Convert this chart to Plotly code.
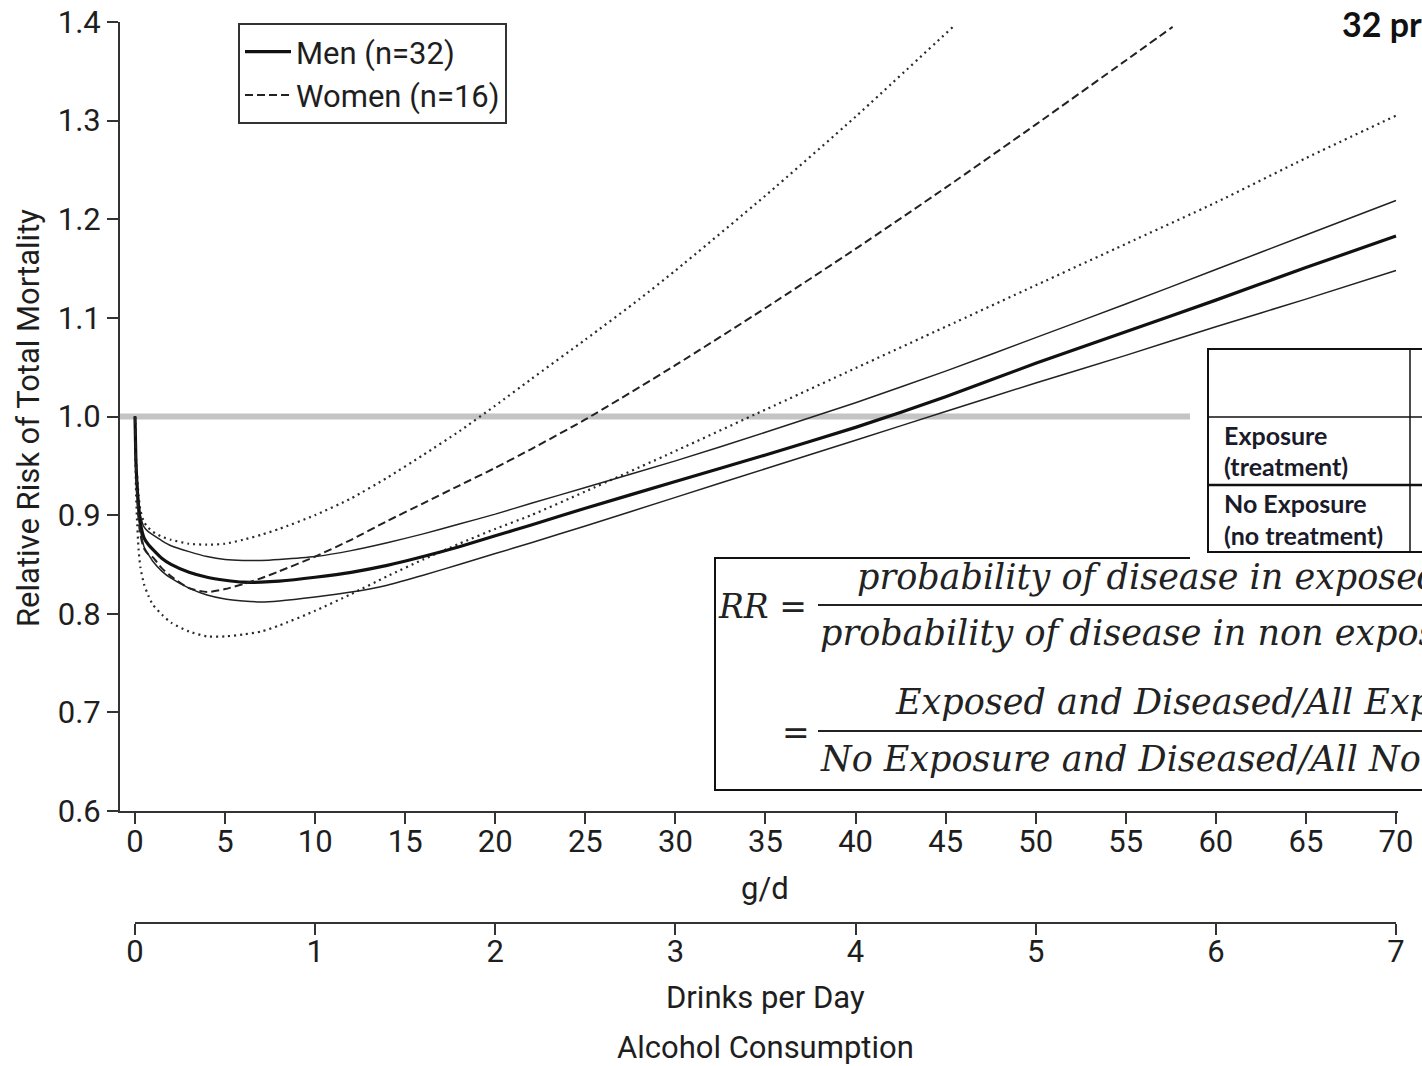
import plotly.graph_objects as go

# ---------------- data ----------------
grams = [0, 0.05, 0.1, 0.2, 0.3, 0.5, 0.75, 1, 1.5, 2, 3, 4, 5, 6, 7, 8, 10, 12, 14,
         16, 18, 20, 22, 25, 30, 35, 40, 45, 50, 55, 60, 65, 70]

men_rr = [1.0, 0.955, 0.935, 0.908, 0.892, 0.877, 0.870, 0.865, 0.856, 0.850, 0.842, 0.837,
          0.834, 0.832, 0.832, 0.833, 0.837, 0.842, 0.849, 0.858, 0.868, 0.879, 0.890,
          0.907, 0.934, 0.961, 0.989, 1.020, 1.054, 1.086, 1.118, 1.151, 1.183]
men_upper = [1.0, 0.958, 0.940, 0.915, 0.900, 0.888, 0.883, 0.880, 0.874, 0.869, 0.863, 0.858,
             0.855, 0.854, 0.854, 0.855, 0.858, 0.864, 0.872, 0.881, 0.891, 0.901, 0.912,
             0.928, 0.955, 0.984, 1.014, 1.046, 1.080, 1.114, 1.149, 1.184, 1.219]
men_lower = [1.0, 0.952, 0.930, 0.900, 0.885, 0.868, 0.860, 0.853, 0.843, 0.836, 0.826, 0.819,
             0.815, 0.813, 0.812, 0.813, 0.817, 0.822, 0.829, 0.839, 0.850, 0.861, 0.872,
             0.889, 0.918, 0.947, 0.976, 1.005, 1.034, 1.062, 1.091, 1.119, 1.148]

women_grams = [0, 0.05, 0.1, 0.2, 0.3, 0.5, 0.75, 1, 1.5, 2, 3, 4, 5, 6, 7, 8, 10, 12, 14,
               16, 18, 20, 22, 25, 30, 35, 40, 45, 50, 55, 57.6]
women_rr = [1.0, 0.950, 0.925, 0.895, 0.880, 0.866, 0.860, 0.857, 0.846, 0.838, 0.826, 0.822,
            0.825, 0.830, 0.836, 0.843, 0.858, 0.875, 0.894, 0.912, 0.930, 0.948, 0.967,
            0.997, 1.052, 1.110, 1.170, 1.232, 1.296, 1.361, 1.395]

women_upper_grams = [0, 0.05, 0.1, 0.2, 0.3, 0.5, 0.75, 1, 1.5, 2, 3, 4, 5, 6, 7, 8, 10, 12,
                     14, 16, 18, 20, 22, 25, 28, 30, 35, 40, 45.4]
women_upper = [1.0, 0.962, 0.945, 0.920, 0.905, 0.893, 0.887, 0.883, 0.878, 0.875, 0.871,
               0.870, 0.871, 0.875, 0.880, 0.886, 0.900, 0.917, 0.938, 0.961, 0.985, 1.011,
               1.038, 1.078, 1.119, 1.148, 1.224, 1.304, 1.395]

women_lower = [1.0, 0.930, 0.900, 0.865, 0.847, 0.830, 0.818, 0.809, 0.799, 0.791, 0.782,
               0.777, 0.777, 0.779, 0.782, 0.788, 0.803, 0.820, 0.838, 0.855, 0.871, 0.886,
               0.900, 0.924, 0.965, 1.007, 1.049, 1.091, 1.133, 1.175, 1.217, 1.262, 1.305]

gram_ticks = list(range(0, 75, 5))
drink_ticks = list(range(0, 8))
rr_ticks = [0.6, 0.7, 0.8, 0.9, 1.0, 1.1, 1.2, 1.3, 1.4]
reference_rr = 1.0

# ---------------- layout helpers ----------------
W, H = 1422, 1066
ML, MR, MT, MB = 120, 0, 22, 100
PW = W - ML - MR
PH = H - MT - MB


def px(xp):
    return (xp - ML) / PW


def py(yp):
    return (H - MB - yp) / PH


G0_PX, G_SCALE = 135, 18.014   # pixel of 0 g/d and px per g/d
X_END_PX = 1398
x_range = [(ML - G0_PX) / G_SCALE, (X_END_PX - G0_PX) / G_SCALE]

SANS = "Roboto, Liberation Sans, sans-serif"
INK = "#1e1e1e"
SMOOTH = dict(shape="spline", smoothing=0.6)

fig = go.Figure()

# women confidence bounds (dotted)
fig.add_trace(go.Scatter(x=women_upper_grams, y=women_upper, mode="lines",
                         line=dict(color="#2a2a2a", width=2.2, dash="2px,4px", **SMOOTH),
                         showlegend=False, hoverinfo="skip"))
fig.add_trace(go.Scatter(x=grams, y=women_lower, mode="lines",
                         line=dict(color="#2a2a2a", width=2.2, dash="2px,4px", **SMOOTH),
                         showlegend=False, hoverinfo="skip"))
# men confidence bounds (thin solid)
fig.add_trace(go.Scatter(x=grams, y=men_upper, mode="lines",
                         line=dict(color="#222", width=1.5, **SMOOTH),
                         showlegend=False, hoverinfo="skip"))
fig.add_trace(go.Scatter(x=grams, y=men_lower, mode="lines",
                         line=dict(color="#222", width=1.5, **SMOOTH),
                         showlegend=False, hoverinfo="skip"))
# main curves
fig.add_trace(go.Scatter(x=grams, y=men_rr, mode="lines", name="Men (n=32)",
                         line=dict(color="#111", width=3.2, **SMOOTH)))
fig.add_trace(go.Scatter(x=women_grams, y=women_rr, mode="lines", name="Women (n=16)",
                         line=dict(color="#222", width=2, dash="8px,4px", **SMOOTH)))
# invisible trace to carry the drinks-per-day axis
fig.add_trace(go.Scatter(x=drink_ticks, y=[0.6] * len(drink_ticks), xaxis="x2",
                         mode="markers", marker=dict(opacity=0), showlegend=False,
                         hoverinfo="skip"))

axis_common = dict(showgrid=False, zeroline=False, showline=True, linecolor="#333",
                   linewidth=2, ticks="outside", ticklen=11, tickwidth=2, automargin=False,
                   tickcolor="#333", tickfont=dict(family=SANS, size=31, color=INK))

fig.update_layout(
    width=W, height=H,
    margin=dict(l=ML, r=MR, t=MT, b=MB, pad=0, autoexpand=False),
    paper_bgcolor="white", plot_bgcolor="rgba(0,0,0,0)",
    xaxis=dict(range=x_range, domain=[0, px(X_END_PX)], anchor="y",
               tickvals=gram_ticks, ticklabelstandoff=-9, **axis_common),
    xaxis2=dict(range=[0, 7], domain=[px(135), px(1396)], anchor="free",
                position=py(923), tickvals=drink_ticks, ticklabelstandoff=-10,
                **axis_common),
    yaxis=dict(range=[0.6, 1.4], domain=[py(811), 1], tickvals=rr_ticks,
               tickformat=".1f", **axis_common),
    legend=dict(x=px(238), y=py(23), xanchor="left", yanchor="top",
                bgcolor="white", bordercolor="#333", borderwidth=2,
                font=dict(family=SANS, size=31, color=INK),
                tracegroupgap=0, itemwidth=46, entrywidth=215, entrywidthmode="pixels"),
    showlegend=True,
)

# reference line at RR = 1.0
fig.add_shape(type="line", xref="x", yref="y", x0=x_range[0], x1=x_range[1],
              y0=reference_rr, y1=reference_rr, line=dict(color="#c4c4c4", width=6),
              layer="below")

# formula box
fig.add_shape(type="rect", xref="paper", yref="paper", x0=px(715), x1=px(1440),
              y0=py(790), y1=py(558), fillcolor="white", line=dict(color="#111", width=2),
              layer="above")
fig.add_shape(type="line", xref="paper", yref="paper", x0=px(818), x1=px(1440),
              y0=py(605), y1=py(605), line=dict(color="#222", width=2), layer="above")
fig.add_shape(type="line", xref="paper", yref="paper", x0=px(818), x1=px(1440),
              y0=py(731), y1=py(731), line=dict(color="#222", width=2), layer="above")

# table overlay
fig.add_shape(type="rect", xref="paper", yref="paper", x0=px(1190), x1=px(1440),
              y0=py(560), y1=py(340), fillcolor="white", line=dict(width=0), layer="above")
fig.add_shape(type="rect", xref="paper", yref="paper", x0=px(1208), x1=px(1440),
              y0=py(552), y1=py(349), line=dict(color="#111", width=2), layer="above")
fig.add_shape(type="line", xref="paper", yref="paper", x0=px(1208), x1=px(1440),
              y0=py(417), y1=py(417), line=dict(color="#111", width=1.5), layer="above")
fig.add_shape(type="line", xref="paper", yref="paper", x0=px(1208), x1=px(1440),
              y0=py(485), y1=py(485), line=dict(color="#111", width=2.5), layer="above")
fig.add_shape(type="line", xref="paper", yref="paper", x0=px(1410), x1=px(1410),
              y0=py(552), y1=py(349), line=dict(color="#111", width=1.5), layer="above")


def note(text, xp, yp, size, family=SANS, xanchor="center", angle=0, color=INK):
    fig.add_annotation(text=text, x=px(xp), y=py(yp), xref="paper", yref="paper",
                       xanchor=xanchor, yanchor="middle", showarrow=False, textangle=angle,
                       font=dict(family=family, size=size, color=color))


note("g/d", 765, 888, 31)
note("Drinks per Day", 765, 998, 31)
note("Alcohol Consumption", 765, 1047, 31)
note("Relative Risk of Total Mortality", 28, 418, 31, angle=-90)

BOLD = "Lato, Open Sans, sans-serif"
note("<b>32 prospective studies</b>", 1340, 24, 34, family=BOLD, xanchor="left", color="#111")
note("<b>Exposure</b>", 1222, 435, 25, family=BOLD, xanchor="left", color="#1a1a2a")
note("<b>(treatment)</b>", 1222, 466, 25, family=BOLD, xanchor="left", color="#1a1a2a")
note("<b>No Exposure</b>", 1222, 503, 25, family=BOLD, xanchor="left", color="#1a1a2a")
note("<b>(no treatment)</b>", 1222, 535, 25, family=BOLD, xanchor="left", color="#1a1a2a")

SERIF = "DejaVu Serif, Liberation Serif, serif"
note("<i>RR</i> =", 716, 606, 33, family=SERIF, xanchor="left", color="#222")
note("<i>probability of disease in exposed</i>", 855, 577, 35, family=SERIF,
     xanchor="left", color="#222")
note("<i>probability of disease in non exposed</i>", 818, 633, 35, family=SERIF,
     xanchor="left", color="#222")
note("=", 780, 733, 33, family=SERIF, xanchor="left", color="#222")
note("<i>Exposed and Diseased/All Exposed</i>", 893, 702, 35, family=SERIF,
     xanchor="left", color="#222")
note("<i>No Exposure and Diseased/All No Exposure</i>", 818, 759, 35, family=SERIF,
     xanchor="left", color="#222")

fig.write_html("out.html")
